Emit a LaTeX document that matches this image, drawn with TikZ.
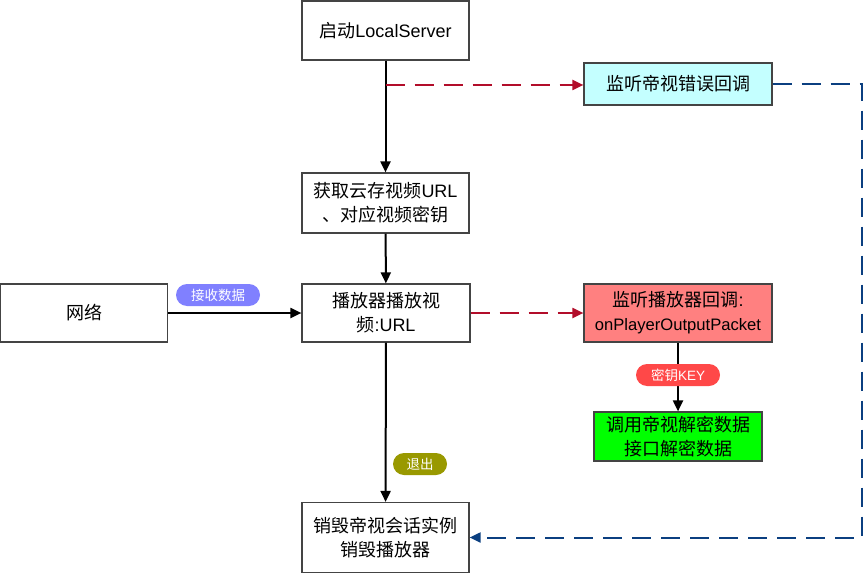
\documentclass[tikz,border=0pt]{standalone}
\usepackage{fontspec}
\setmainfont{Liberation Sans}
\newfontfamily\cjk{Noto Sans CJK SC}
\usetikzlibrary{arrows.meta}
\newcommand{\C}[1]{{\cjk #1}}
\definecolor{bordergray}{HTML}{444444}
\definecolor{cyanfill}{HTML}{C4FFFF}
\definecolor{redfill}{HTML}{FF8080}
\definecolor{greenfill}{HTML}{00FF00}
\definecolor{pillblue}{HTML}{8080FF}
\definecolor{pillred}{HTML}{FF4848}
\definecolor{pillolive}{HTML}{999900}
\definecolor{dashred}{HTML}{B20D2A}
\definecolor{dashblue}{HTML}{0B3F80}
\tikzset{
  box/.style={draw=bordergray, line width=1.2pt, fill=white, align=center, inner sep=0pt,
    font=\fontsize{18}{24}\selectfont},
  pill/.style={rounded corners=11pt, text=white, inner sep=0pt, minimum height=22pt,
    font=\fontsize{13.5}{16}\selectfont},
  flow/.style={line width=2pt, -{Triangle[length=11pt,width=10pt]}},
  reddash/.style={draw=dashred, line width=2pt, dash pattern=on 19pt off 10pt,
    -{Triangle[length=11pt,width=10pt]}},
  bluedash/.style={draw=dashblue, line width=2pt, dash pattern=on 19pt off 10pt,
    -{Triangle[length=11pt,width=10pt]}}
}
\begin{document}
\begin{tikzpicture}[x=1pt,y=-1pt]
\useasboundingbox (0,0) rectangle (864,575);
\node[box, minimum width=167pt, minimum height=59pt] (start) at (385.5,30.5) {\C{启动}LocalServer};
\node[box, minimum width=167pt, minimum height=60pt] (get) at (385.5,203) {\C{获取云存视频}URL\\\C{、对应视频密钥}};
\node[box, minimum width=167pt, minimum height=58pt] (net) at (84,313) {\C{网络}};
\node[box, minimum width=168pt, minimum height=58pt] (play) at (386,313) {\C{播放器播放视}\\\C{频}:URL};
\node[box, minimum width=167pt, minimum height=70pt] (destroy) at (385.5,537.5) {\C{销毁帝视会话实例}\\\C{销毁播放器}};
\node[box, fill=cyanfill, minimum width=188pt, minimum height=42pt] (err) at (678,84) {\C{监听帝视错误回调}};
\node[box, fill=redfill, minimum width=188pt, minimum height=58pt] (cb) at (678,313) {\C{监听播放器回调}:\\{\fontsize{16.6}{24}\selectfont onPlayerOutputPacket}};
\node[box, fill=greenfill, minimum width=168pt, minimum height=49pt] (dec) at (678,436.5) {\C{调用帝视解密数据}\\\C{接口解密数据}};

\draw[flow] (start) -- (get);
\draw[flow] (get) -- (play);
\draw[flow] (play) -- (destroy);
\draw[flow] (net.east) -- (play.west);
\draw[flow] (cb) -- (dec);

\coordinate (e1) at (385.5,85);
\draw[reddash] (e1) -- (e1 -| err.west);
\draw[reddash] (play.east) -- (cb.west);
\coordinate (bc) at (862,84);
\draw[bluedash] (err.east) -- (bc) |- (destroy.east);

\node[pill, fill=pillblue, minimum width=84pt] (recv) at (218,295) {\C{接收数据}};
\node[pill, fill=pillred, minimum width=84pt] (key) at (678,375) {\C{密钥}KEY};
\node[pill, fill=pillolive, minimum width=54pt] (exit) at (420,464) {\C{退出}};
\end{tikzpicture}
\end{document}
